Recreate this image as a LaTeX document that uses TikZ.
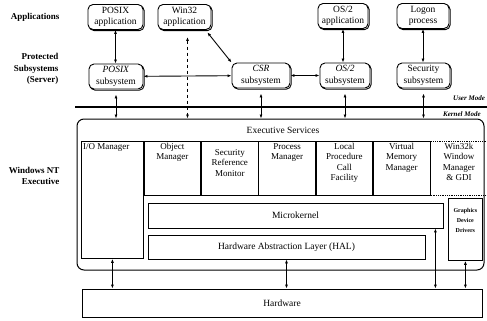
\documentclass[tikz,border=0pt]{standalone}
\usepackage{fontspec}
\setmainfont{Liberation Serif}
\usetikzlibrary{arrows.meta, positioning, shadows}

\begin{document}
\begin{tikzpicture}[
      x=1pt, y=-1pt,
      font=\fontsize{9.5}{11.5}\selectfont,
      process/.style={
        draw=black,
        rounded corners=5pt,
        fill=white,
        minimum width=54pt,
        minimum height=25pt,
        inner sep=1pt,
        align=center,
        line width=0.9pt,
        copy shadow={shadow xshift=1.2pt, shadow yshift=-1.2pt}
      },
      layer/.style={
        draw=black,
        line width=0.8pt,
        align=center,
        inner sep=1pt
      },
      module/.style={
        draw=black,
        line width=0.8pt,
        minimum width=56.5pt,
        minimum height=54pt,
        inner sep=0pt
      },
      modlabel/.style={anchor=north, align=center, inner sep=2pt, font=\fontsize{9}{10.5}\selectfont},
      rowlabel/.style={anchor=east, align=right, font=\fontsize{9}{11.5}\selectfont\bfseries},
      modelabel/.style={anchor=west, inner sep=0pt, font=\fontsize{7}{8}\selectfont\bfseries\itshape},
      call/.style={{Latex[length=4pt,width=3pt]}-{Latex[length=4pt,width=3pt]}, draw=black, line width=0.9pt}
    ]
    \useasboundingbox (0,0) rectangle (487,321);

    % Row labels
    \node[rowlabel] (applbl) at (63,17) {Applications};
    \node[rowlabel] (sublbl) at (62,69) {Protected\\Subsystems\\(Server)};
    \node[rowlabel] (execlbl) at (63,176) {Windows NT\\Executive};

    % Applications
    \node[process, minimum width=55pt] (posixapp) at (115.5,17) {POSIX\\application};
    \node[process, minimum width=53pt] (win32app) at (184.5,17) {Win32\\application};
    \node[process, minimum width=50pt] (os2app) at (343,16) {OS/2\\application};
    \node[process, minimum width=52pt] (logon) at (423,16) {Logon\\process};

    % Protected subsystems
    \node[process] (posixsub) at (116,76.5) {\textit{POSIX}\\subsystem};
    \node[process, minimum width=58pt] (csrsub) at (261,75.5) {\textit{CSR}\\subsystem};
    \node[process, minimum width=50pt] (os2sub) at (345,75.5) {\textit{OS/2}\\subsystem};
    \node[process, minimum width=53pt] (secsub) at (423.5,75.5) {Security\\subsystem};

    % User / kernel boundary
    \coordinate (bndleft) at (75,107);
    \coordinate (bndright) at (487,107);
    \draw[line width=2.2pt] (bndleft) -- (bndright);
    \node[modelabel] (usermode) at (453,98) {User Mode};
    \node[modelabel] (kernelmode) at (443,114) {Kernel Mode};

    % Executive
    \node[draw, rounded corners=7pt, line width=1pt, minimum width=407pt, minimum height=151pt] (exec) at (280.5,194.5) {};
    \node (execsvc) at (283,130) {Executive Services};
    \node[module, anchor=north west, minimum width=62pt, minimum height=117pt,
      label={[modlabel, anchor=north west]north west:I/O Manager}] (iomgr) at (81,141) {};
    \node[module, below right=0pt of iomgr.north east, label={[modlabel]north:Object\\Manager}] (objmgr) {};
    \node[module, below right=0pt of objmgr.north east, label={[modlabel, yshift=-6pt]north:Security\\Reference\\Monitor}] (secmon) {};
    \node[module, below right=0pt of secmon.north east, label={[modlabel]north:Process\\Manager}] (procmgr) {};
    \node[module, below right=0pt of procmgr.north east, label={[modlabel]north:Local\\Procedure\\Call\\Facility}] (lpc) {};
    \node[module, below right=0pt of lpc.north east, label={[modlabel]north:Virtual\\Memory\\Manager}] (vmm) {};
    \node[module, densely dotted, below right=0pt of vmm.north east, label={[modlabel]north:Win32k\\Window\\Manager\\\& GDI}] (win32k) {};

    \node[layer, minimum width=295pt, minimum height=25pt] (kernel) at (295.5,215.5) {Microkernel};
    \node[layer, minimum width=277pt, minimum height=24pt] (hal) at (286.5,247) {Hardware Abstraction Layer (HAL)};
    \node[layer, minimum width=34pt, minimum height=62pt, anchor=north west,
      label={[modlabel, yshift=-8pt, font=\fontsize{6}{10}\selectfont\bfseries]north:Graphics\\Device\\Drivers}] (gdd) at (448,198) {};

    % Hardware
    \node[layer, minimum width=400pt, minimum height=28pt] (hw) at (282,303) {Hardware};

    % Applications <-> subsystems
    \draw[call] (posixapp.south) -- (posixapp.south |- posixsub.north);
    \draw[call] (os2app.south) -- (os2app.south |- os2sub.north);
    \draw[call] (logon.south) -- (logon.south |- secsub.north);
    \draw[call, shorten <=3pt] ([xshift=-6pt]win32app.south east) -- (csrsub.north west);
    \draw[call] (posixsub) -- (csrsub);
    \draw[call] (csrsub) -- (os2sub);

    % Subsystems <-> executive
    \draw[call, shorten <=5pt] (posixsub.south) -- (posixsub.south |- exec.north);
    \draw[call, dashed, shorten <=7pt] ([xshift=3pt]win32app.south) -- ([xshift=3pt]win32app.south |- exec.north);
    \draw[call, shorten <=5pt] (csrsub.south) -- (csrsub.south |- exec.north);
    \draw[call, shorten <=5pt] (os2sub.south) -- (os2sub.south |- exec.north);
    \draw[call, shorten <=5pt] (secsub.south) -- (secsub.south |- exec.north);

    % Executive <-> hardware
    \draw[call] (iomgr.south) -- (iomgr.south |- hw.north);
    \draw[call] (hal.south) -- (hal.south |- hw.north);
    \draw[call] ([xshift=-8pt]kernel.south east) -- ([xshift=-8pt]kernel.south east |- hw.north);
    \draw[call] (gdd.south) -- (gdd.south |- hw.north);

  \end{tikzpicture}
\end{document}
